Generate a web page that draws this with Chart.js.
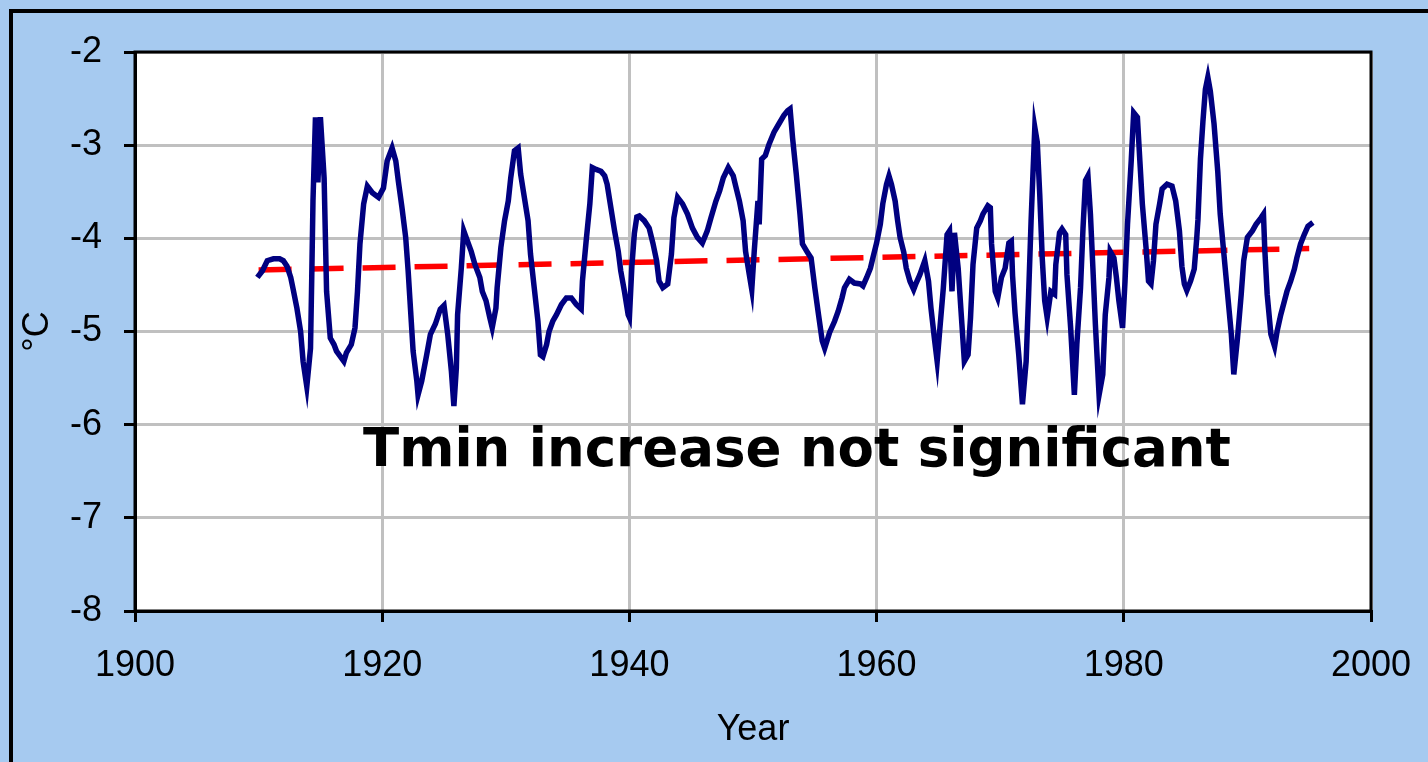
<!DOCTYPE html>
<html>
<head>
<meta charset="utf-8">
<title>Tmin</title>
<script src="https://cdn.jsdelivr.net/npm/chart.js@4/dist/chart.umd.min.js"></script>
<style>
  html, body { margin:0; padding:0; background:#A6CAF0; overflow:hidden; }
  canvas { display:block; }
</style>
</head>
<body>
<canvas id="chart" width="1428" height="762"></canvas>
<script>
// values (year, deg C)
const years = [
  1909.9,1910.3,1910.7,1911.2,1911.7,1912.0,1912.3,1912.6,1912.8,1913.1,1913.4,1913.6,1913.9,1914.2,1914.3,1914.4,
  1914.6,1914.8,1915.0,1915.3,1915.4,1915.5,1915.8,1916.1,1916.3,1916.9,1917.1,1917.5,1917.8,1918.0,1918.2,1918.5,
  1918.8,1919.2,1919.7,1920.1,1920.4,1920.8,1921.1,1921.3,1921.6,1921.9,1922.1,1922.3,1922.5,1922.8,1922.9,1923.2,
  1923.6,1923.9,1924.3,1924.7,1925.0,1925.3,1925.6,1925.8,1926.0,1926.1,1926.4,1926.6,1926.9,1927.2,1927.5,1927.9,
  1928.1,1928.4,1928.7,1928.9,1929.2,1929.3,1929.6,1929.9,1930.2,1930.4,1930.7,1931.0,1931.2,1931.5,1931.8,1932.0,
  1932.3,1932.6,1932.8,1933.0,1933.3,1933.5,1933.8,1934.1,1934.5,1934.9,1935.3,1935.7,1936.1,1936.2,1936.5,1936.8,
  1937.0,1937.3,1937.7,1938.0,1938.2,1938.5,1938.8,1939.1,1939.3,1939.6,1939.9,1940.0,1940.2,1940.4,1940.6,1940.8,
  1941.2,1941.6,1941.9,1942.2,1942.4,1942.7,1943.1,1943.4,1943.6,1943.9,1944.3,1944.7,1945.1,1945.5,1945.9,1946.3,
  1946.6,1947.0,1947.3,1947.6,1948.0,1948.4,1948.6,1948.9,1949.2,1949.4,1949.7,1949.9,1950.1,1950.4,1950.5,1950.7,
  1951.0,1951.3,1951.7,1952.1,1952.5,1952.8,1953.0,1953.2,1953.5,1953.8,1954.0,1954.4,1954.7,1955.0,1955.3,1955.6,
  1955.8,1956.2,1956.6,1956.9,1957.2,1957.4,1957.8,1958.2,1958.7,1958.9,1959.2,1959.5,1959.7,1960.0,1960.3,1960.5,
  1960.8,1961.0,1961.2,1961.5,1961.7,1961.9,1962.2,1962.4,1962.7,1963.0,1963.2,1963.5,1963.9,1964.2,1964.4,1964.7,
  1964.9,1965.1,1965.4,1965.7,1965.9,1966.1,1966.3,1966.6,1966.9,1967.1,1967.4,1967.6,1967.8,1968.1,1968.4,1968.6,
  1969.0,1969.2,1969.3,1969.6,1969.8,1970.1,1970.4,1970.7,1970.9,1971.0,1971.2,1971.5,1971.8,1972.1,1972.3,1972.5,
  1972.8,1973.0,1973.2,1973.4,1973.6,1973.8,1974.1,1974.4,1974.5,1974.8,1975.0,1975.3,1975.4,1975.7,1976.0,1976.2,
  1976.5,1976.7,1976.9,1977.1,1977.3,1977.5,1977.7,1978.0,1978.3,1978.5,1978.8,1978.9,1979.2,1979.4,1979.6,1979.9,
  1980.1,1980.3,1980.6,1980.8,1981.1,1981.3,1981.5,1981.8,1982.0,1982.2,1982.4,1982.6,1982.9,1983.1,1983.5,1983.9,
  1984.2,1984.5,1984.7,1984.9,1985.1,1985.4,1985.7,1985.9,1986.0,1986.2,1986.4,1986.6,1986.8,1987.0,1987.3,1987.6,
  1987.8,1988.1,1988.4,1988.7,1988.9,1989.2,1989.5,1989.7,1990.0,1990.4,1990.7,1991.1,1991.3,1991.4,1991.6,1991.9,
  1992.2,1992.4,1992.7,1993.0,1993.2,1993.5,1993.8,1994.0,1994.3,1994.6,1994.9,1995.3
];
const tmin = [
  -4.42,-4.35,-4.24,-4.22,-4.22,-4.24,-4.30,-4.42,-4.55,-4.75,-5.00,-5.32,-5.59,-5.18,-4.42,-3.60,
  -2.70,-3.40,-2.70,-3.35,-3.96,-4.57,-5.07,-5.14,-5.21,-5.32,-5.23,-5.14,-4.96,-4.57,-4.06,-3.63,
  -3.44,-3.51,-3.56,-3.46,-3.17,-3.03,-3.17,-3.38,-3.67,-3.99,-4.35,-4.78,-5.21,-5.53,-5.68,-5.53,
  -5.25,-5.03,-4.92,-4.76,-4.72,-5.03,-5.43,-5.80,-5.39,-4.82,-4.32,-3.92,-4.03,-4.14,-4.28,-4.42,
  -4.57,-4.67,-4.85,-4.96,-4.75,-4.53,-4.10,-3.81,-3.60,-3.35,-3.06,-3.03,-3.31,-3.56,-3.81,-4.17,
  -4.53,-4.89,-5.25,-5.27,-5.14,-5.00,-4.89,-4.82,-4.71,-4.64,-4.64,-4.71,-4.76,-4.46,-4.03,-3.63,
  -3.24,-3.26,-3.28,-3.33,-3.42,-3.67,-3.92,-4.14,-4.35,-4.57,-4.82,-4.85,-4.30,-3.95,-3.77,-3.76,
  -3.81,-3.89,-4.05,-4.24,-4.46,-4.53,-4.49,-4.17,-3.78,-3.56,-3.63,-3.74,-3.89,-3.99,-4.05,-3.92,
  -3.78,-3.60,-3.49,-3.35,-3.24,-3.33,-3.44,-3.60,-3.81,-4.14,-4.39,-4.55,-4.14,-3.60,-3.85,-3.15,
  -3.11,-2.99,-2.86,-2.77,-2.68,-2.63,-2.61,-2.92,-3.31,-3.74,-4.06,-4.15,-4.21,-4.53,-4.82,-5.10,
  -5.18,-5.01,-4.89,-4.78,-4.64,-4.53,-4.44,-4.48,-4.49,-4.51,-4.42,-4.32,-4.21,-4.05,-3.85,-3.63,
  -3.42,-3.33,-3.42,-3.60,-3.81,-3.99,-4.15,-4.32,-4.46,-4.55,-4.48,-4.39,-4.24,-4.46,-4.75,-5.10,
  -5.32,-5.00,-4.53,-3.96,-3.92,-4.57,-3.94,-4.32,-4.92,-5.32,-5.25,-4.85,-4.28,-3.89,-3.81,-3.74,
  -3.65,-3.67,-4.06,-4.57,-4.64,-4.42,-4.32,-4.05,-4.03,-4.40,-4.80,-5.25,-5.78,-5.32,-4.60,-3.81,
  -2.81,-2.97,-3.53,-4.21,-4.67,-4.85,-4.57,-4.60,-4.28,-3.94,-3.90,-3.96,-4.39,-4.96,-5.68,-5.14,
  -4.53,-3.89,-3.38,-3.33,-3.74,-4.32,-4.92,-5.68,-5.46,-4.82,-4.42,-4.14,-4.21,-4.42,-4.67,-4.96,
  -4.46,-3.85,-3.17,-2.65,-2.70,-3.17,-3.63,-4.10,-4.46,-4.49,-4.24,-3.85,-3.63,-3.47,-3.42,-3.44,
  -3.60,-3.92,-4.30,-4.49,-4.56,-4.46,-4.33,-4.00,-3.80,-3.15,-2.75,-2.40,-2.27,-2.42,-2.77,-3.28,
  -3.74,-4.17,-4.60,-5.03,-5.46,-5.07,-4.60,-4.24,-3.99,-3.92,-3.85,-3.78,-3.74,-4.10,-4.60,-5.03,
  -5.16,-5.00,-4.82,-4.67,-4.57,-4.46,-4.33,-4.21,-4.06,-3.96,-3.87,-3.83
];
// linear trend (ends)
const trendYears = [1910, 1995];
const trendTmin = [-4.34, -4.11];

const xTicks = [1900, 1920, 1940, 1960, 1980, 2000];
const yTicks = [-8, -7, -6, -5, -4, -3, -2];
const note = 'Tmin increase not significant';

const tickFont = {family: '"Liberation Sans", Arial, sans-serif', size: 36};

// background, outer frame, plot frame and the note
const decor = {
  id: 'decor',
  beforeDraw(chart){
    const c = chart.ctx, a = chart.chartArea;
    c.save();
    c.fillStyle = '#A6CAF0';
    c.fillRect(0, 0, chart.width, chart.height);
    c.strokeStyle = '#000'; c.lineWidth = 4;
    c.strokeRect(11, 11, chart.width + 20, chart.height + 20);
    c.fillStyle = '#fff';
    c.fillRect(a.left, a.top, a.right - a.left, a.bottom - a.top);
    c.restore();
  },
  afterDatasetsDraw(chart){
    const c = chart.ctx, a = chart.chartArea;
    const xs = chart.scales.x, ys = chart.scales.y;
    c.save();
    c.strokeStyle = '#000'; c.lineWidth = 3;
    c.strokeRect(a.left, a.top, a.right - a.left, a.bottom - a.top);
    c.fillStyle = '#000';
    c.font = 'bold 53px "DejaVu Sans", Verdana, sans-serif';
    c.textAlign = 'left'; c.textBaseline = 'alphabetic';
    c.fillText(note, xs.getPixelForValue(1918.45), ys.getPixelForValue(-6.44));
    c.restore();
  }
};

new Chart(document.getElementById('chart').getContext('2d'), {
  type: 'line',
  data: {
    datasets: [
      {
        label: 'Tmin',
        data: years.map((y,i)=>({x:y, y:tmin[i]})),
        borderColor: '#000080', borderWidth: 5.5,
        pointRadius: 0, tension: 0, fill: false
      },
      {
        label: 'Trend',
        data: trendYears.map((y,i)=>({x:y, y:trendTmin[i]})),
        borderColor: '#FF0000', borderWidth: 5.5, borderDash: [33, 19],
        pointRadius: 0, fill: false
      }
    ]
  },
  options: {
    responsive: false,
    animation: false,
    layout: {padding: {top: 52, right: 57, left: 0, bottom: 0}},
    plugins: {legend: {display: false}, tooltip: {enabled: false}},
    scales: {
      x: {
        type: 'linear', min: 1900, max: 2000,
        afterBuildTicks: s => { s.ticks = xTicks.map(v=>({value:v})); },
        afterFit: s => { s.height = 151; s.paddingLeft = 0; s.paddingRight = 0; },
        grid: {color: '#C0C0C0', lineWidth: 3, tickColor: '#000', tickWidth: 3, tickLength: 11},
        border: {color: '#000', width: 3},
        ticks: {color: '#000', font: tickFont, padding: 22, maxRotation: 0, callback: v => String(v)},
        title: {display: true, text: 'Year', color: '#000', font: tickFont, padding: {bottom: 10}}
      },
      y: {
        min: -8, max: -2,
        afterBuildTicks: s => { s.ticks = yTicks.map(v=>({value:v})); },
        afterFit: s => { s.width = 135; s.paddingTop = 0; s.paddingBottom = 0; },
        grid: {color: '#C0C0C0', lineWidth: 3, tickColor: '#000', tickWidth: 3, tickLength: 11},
        border: {color: '#000', width: 3},
        ticks: {color: '#000', font: tickFont, padding: 22, callback: v => String(v)},
        title: {display: true, text: '°C', color: '#000', font: tickFont, padding: {top: 16}}
      }
    }
  },
  plugins: [decor]
});
</script>
</body>
</html>
